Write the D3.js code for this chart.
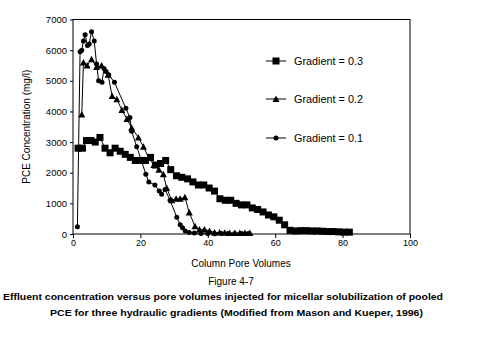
<!DOCTYPE html>
<html>
<head>
<meta charset="utf-8">
<script src="https://cdn.jsdelivr.net/npm/d3@7/dist/d3.min.js"></script>
<style>
  body { margin: 0; background: #fff; }
  text { font-family: "Liberation Sans", Arial, sans-serif; fill: #000; }
</style>
</head>
<body>
<div id="chart"></div>
<script>
// x ticks and y ticks
var xTicks = [0, 20, 40, 60, 80, 100];
var yTicks = [0, 1000, 2000, 3000, 4000, 5000, 6000, 7000];

// Gradient = 0.3 (squares)
var pv03 = [1.5, 2.8, 4.0, 5.3, 6.6, 8.0, 9.5, 11.0, 12.5, 14.0, 15.5, 17.0, 18.5, 20.0, 21.5, 23.0, 24.5, 26.0, 27.5, 29.0,
  30.7, 32.3, 34.0, 35.6, 37.2, 38.8, 40.4, 42.0, 43.6, 45.2, 46.8, 48.4, 50.0, 51.6, 53.2, 54.8, 56.4, 58.0, 59.6, 61.2,
  62.8, 64.4, 66.0, 67.6, 69.2, 70.8, 72.4, 74.0, 75.6, 77.2, 78.8, 80.4, 82.0];
var c03 = [2800, 2800, 3050, 3050, 3000, 3150, 2800, 2650, 2800, 2700, 2600, 2500, 2400, 2400, 2400, 2500, 2250, 2300, 2400, 2100,
  1900, 1850, 1800, 1700, 1600, 1600, 1500, 1400, 1150, 1100, 1100, 1000, 950, 950, 850, 800, 720, 620, 560, 450,
  300, 120, 100, 110, 110, 100, 100, 90, 80, 80, 70, 60, 60];

// Gradient = 0.2 (triangles)
var pv02 = [2.6, 3.1, 4.2, 5.5, 7.0, 8.5, 10.4, 11.6, 13.0, 14.5, 16.0, 17.4, 19.4, 20.9, 22.4, 24.0, 25.5, 26.8, 27.8, 29.3,
  30.6, 31.8, 33.2, 34.5, 36.2, 37.5, 39.0, 40.5, 42.0, 43.5, 45.0, 46.5, 48.0, 49.5, 51.0, 52.5];
var c02 = [3900, 5600, 5500, 5700, 5450, 5500, 5200, 4500, 4400, 4050, 3750, 3470, 3150, 2850, 2500, 2250, 2100, 1950, 1500, 1100,
  1150, 1150, 1200, 700, 250, 150, 150, 100, 50, 50, 40, 30, 30, 30, 30, 30];

// Gradient = 0.1 (circles)
var pv01 = [1.3, 2.1, 2.6, 3.1, 3.6, 4.3, 4.8, 5.5, 6.3, 7.0, 7.6, 8.6, 9.2, 9.8, 10.6, 12.3, 15.7, 16.9, 17.4, 18.9,
  20.3, 21.6, 22.5, 24.3, 25.6, 26.3, 27.3, 28.8, 30.8, 31.8, 32.5, 33.3, 34.5, 36.0, 38.0, 40.0, 42.0, 44.0, 46.0, 48.0, 50.0, 52.0];
var c01 = [240, 5950, 6000, 6300, 6500, 6150, 6200, 6600, 6300, 5550, 5000, 4950, 5400, 5300, 5200, 4950, 4100, 3800, 3350, 2850,
  2400, 1950, 1700, 1600, 1400, 1300, 1450, 1100, 550, 300, 200, 100, 50, 30, 20, 20, 10, 20, 20, 20, 20, 20];

var seriesNames = ["Gradient = 0.3", "Gradient = 0.2", "Gradient = 0.1"];

var W = 477, H = 354;
var margin = {top: 19.5, right: 67, bottom: 120, left: 73};

var svg = d3.select("#chart").append("svg")
  .attr("width", W).attr("height", H);

var x = d3.scaleLinear().domain([0, 100]).range([margin.left, W - margin.right]);
var y = d3.scaleLinear().domain([0, 7000]).range([H - margin.bottom, margin.top]);

// frame
svg.append("rect")
  .attr("x", x(0)).attr("y", y(7000))
  .attr("width", x(100) - x(0)).attr("height", y(0) - y(7000))
  .attr("fill", "none").attr("stroke", "#000").attr("stroke-width", 1);

var xAxis = svg.append("g")
  .attr("transform", "translate(0," + y(0) + ")")
  .call(d3.axisBottom(x).tickValues(xTicks).tickSize(4).tickPadding(2).tickFormat(d3.format("d")));
xAxis.select(".domain").remove();
xAxis.selectAll("text").attr("font-size", "9px").attr("font-family", "Liberation Sans, Arial, sans-serif");

var yAxis = svg.append("g")
  .attr("transform", "translate(" + x(0) + ",0)")
  .call(d3.axisLeft(y).tickValues(yTicks).tickSize(3).tickPadding(3).tickFormat(d3.format("d")));
yAxis.select(".domain").remove();
yAxis.selectAll("text").attr("font-size", "9.5px")
  .attr("font-family", "Liberation Sans, Arial, sans-serif");

var line = d3.line().x(d => x(d[0])).y(d => y(d[1]));

var series = [
  {pts: d3.zip(pv03, c03), shape: "square"},
  {pts: d3.zip(pv02, c02), shape: "triangle"},
  {pts: d3.zip(pv01, c01), shape: "circle"}
];

function drawMarker(g, shape, cx, cy) {
  if (shape === "square") {
    g.append("rect").attr("x", cx - 3.5).attr("y", cy - 3.5).attr("width", 7).attr("height", 7).attr("fill", "#000");
  } else if (shape === "triangle") {
    g.append("path").attr("d", "M" + cx + "," + (cy - 3.5) + "L" + (cx + 3.5) + "," + (cy + 3) + "L" + (cx - 3.5) + "," + (cy + 3) + "Z").attr("fill", "#000");
  } else {
    g.append("circle").attr("cx", cx).attr("cy", cy).attr("r", 2.5).attr("fill", "#000");
  }
}

series.forEach(function(s) {
  svg.append("path").datum(s.pts)
    .attr("d", line).attr("fill", "none").attr("stroke", "#000").attr("stroke-width", 1);
  var g = svg.append("g");
  s.pts.forEach(function(p) { drawMarker(g, s.shape, x(p[0]), y(p[1])); });
});

// legend
var legY = [61, 99, 138];
seriesNames.forEach(function(name, i) {
  var g = svg.append("g");
  g.append("line").attr("x1", 266).attr("x2", 286).attr("y1", legY[i]).attr("y2", legY[i])
    .attr("stroke", "#000").attr("stroke-width", 1);
  drawMarker(g, series[i].shape, 276, legY[i]);
  g.append("text").attr("x", 294).attr("y", legY[i] + 3.5)
    .attr("font-size", "10px").attr("textLength", 69).attr("lengthAdjust", "spacingAndGlyphs").text(name);
});

// axis titles
svg.append("text")
  .attr("transform", "translate(30," + ((y(0) + y(7000)) / 2) + ") rotate(-90)")
  .attr("text-anchor", "middle").attr("font-size", "10px").text("PCE Concentration (mg/l)");

svg.append("text").attr("x", 241).attr("y", 267)
  .attr("text-anchor", "middle").attr("font-size", "10px").text("Column Pore Volumes");

// caption
svg.append("text").attr("x", 231).attr("y", 285)
  .attr("text-anchor", "middle").attr("font-size", "10px").text("Figure 4-7");
svg.append("text").attr("x", 3).attr("y", 300)
  .attr("font-size", "9.5px").attr("font-weight", "bold").attr("textLength", 440).attr("lengthAdjust", "spacingAndGlyphs")
  .text("Effluent concentration versus pore volumes injected for micellar solubilization of pooled");
svg.append("text").attr("x", 50).attr("y", 316)
  .attr("font-size", "9.5px").attr("font-weight", "bold").attr("textLength", 373).attr("lengthAdjust", "spacingAndGlyphs")
  .text("PCE for three hydraulic gradients (Modified from Mason and Kueper, 1996)");
</script>
</body>
</html>
